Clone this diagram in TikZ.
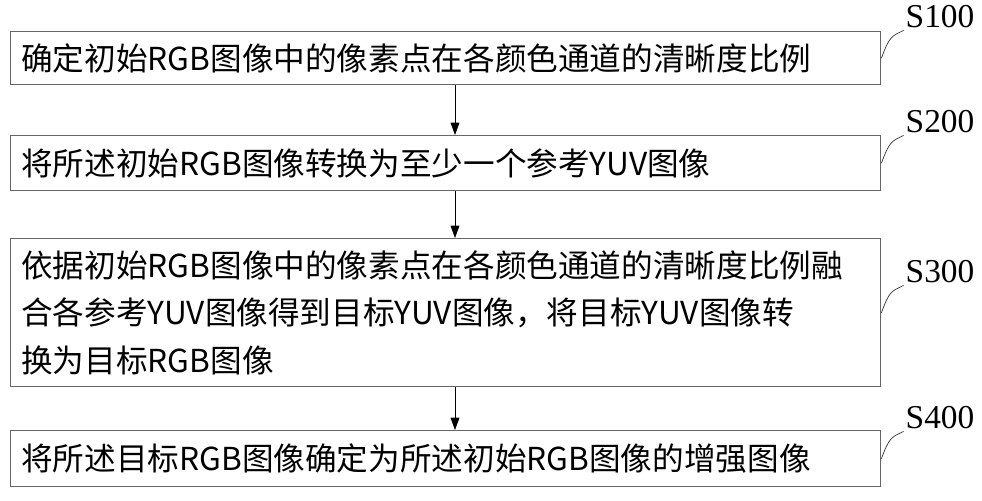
\documentclass[tikz,border=0pt]{standalone}
\usepackage{fontspec}
\setmainfont{Noto Sans CJK SC}
\newfontfamily\labelfont{Liberation Serif}
\usetikzlibrary{positioning,arrows.meta}
\begin{document}
\begin{tikzpicture}[x=0.02cm,y=-0.02cm,
    stepbox/.style={draw=black!60, thick, anchor=north west, align=left,
                    text width=870*0.02cm-12pt, inner xsep=6pt, font=\fontsize{18pt}{27pt}\selectfont},
    steplabel/.style={font=\labelfont\fontsize{19pt}{20pt}\selectfont, inner sep=1pt},
    lead/.style={thin, black!80},
    arrow/.style={thin, -{Triangle[length=7pt,width=5pt]}}
  ]
  \useasboundingbox (0,0) rectangle (982,500);

  % steps
  \node[stepbox, minimum height=53*0.02cm] (s1) at (10,31) {确定初始RGB图像中的像素点在各颜色通道的清晰度比例};
  \node[stepbox, minimum height=55*0.02cm] (s2) at (10,135) {将所述初始RGB图像转换为至少一个参考YUV图像};
  \node[stepbox, minimum height=148*0.02cm] (s3) at (10,238) {依据初始RGB图像中的像素点在各颜色通道的清晰度比例融\\合各参考YUV图像得到目标YUV图像，将目标YUV图像转\\换为目标RGB图像};
  \node[stepbox, minimum height=56*0.02cm] (s4) at (10,430) {将所述目标RGB图像确定为所述初始RGB图像的增强图像};

  % labels
  \node[steplabel] (l1) at (940,17) {S100};
  \node[steplabel] (l2) at (940,122) {S200};
  \node[steplabel] (l3) at (940,272) {S300};
  \node[steplabel] (l4) at (940,418) {S400};

  % leaders
  \foreach \i in {1,...,4}{
    \draw[lead] (s\i.east) .. controls +(8,-22) and +(-12,6) .. (l\i.south west);
  }

  % connections
  \draw[arrow] (s1.south -| 455,0) -- (s2.north -| 455,0);
  \draw[arrow] (s2.south -| 455,0) -- (s3.north -| 455,0);
  \draw[arrow] (s3.south -| 455,0) -- (s4.north -| 455,0);
\end{tikzpicture}
\end{document}
